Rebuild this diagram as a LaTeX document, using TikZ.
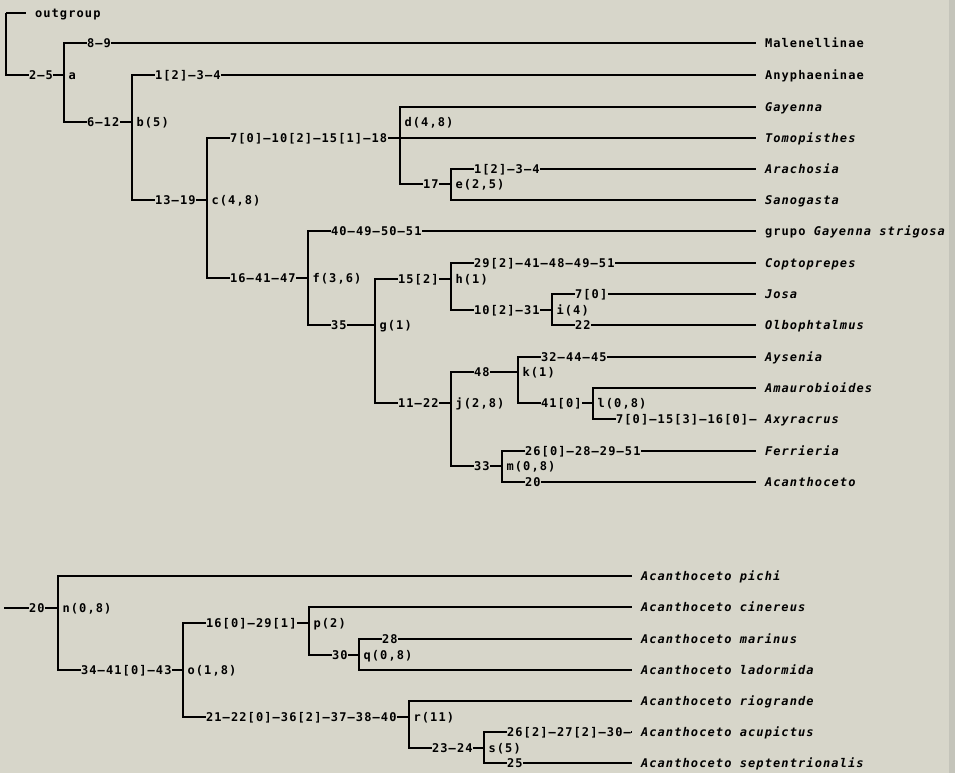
\documentclass[tikz,border=0pt]{standalone}
\usepackage{fontspec}
\newfontfamily\plotfont[LetterSpace=9.2]{DejaVu Sans Mono}
\usetikzlibrary{positioning}
\definecolor{paper}{RGB}{215,214,202}
\definecolor{scanedge}{RGB}{196,196,186}

\begin{document}
\begin{tikzpicture}[x=1pt, y=-1pt, line width=1.1pt,
    every node/.style={font=\plotfont\bfseries\fontsize{12}{14}\selectfont, text height=8.7pt, text depth=0pt},
    taxon/.style={anchor=west, inner sep=0pt, outer xsep=9pt, font=\plotfont\bfseries\itshape\fontsize{12}{14}\selectfont},
    taxonup/.style={anchor=west, inner sep=0pt, outer xsep=9pt},
    chars/.style={anchor=west, fill=paper, inner xsep=0.5pt, inner ysep=1.5pt},
    cladelab/.style={right=4pt of #1, inner sep=0pt}]

    % paper
    \fill[paper] (0,0) rectangle (955,773);
    \fill[scanedge] (949,0) rectangle (955,773);
    \useasboundingbox (0,0) rectangle (955,773);

    % ==================== upper tree ====================
    % terminals
    \node[taxonup] (og)  at (26,13)  {outgroup};
    \node[taxonup] (mal) at (756,43)  {Malenellinae};
    \node[taxonup] (any) at (756,75)  {Anyphaeninae};
    \node[taxon]   (gay) at (756,107) {Gayenna};
    \node[taxon]   (tom) at (756,138) {Tomopisthes};
    \node[taxon]   (ara) at (756,169) {Arachosia};
    \node[taxon]   (san) at (756,200) {Sanogasta};
    \node[taxonup] (gst) at (756,231) {grupo \textit{Gayenna strigosa}};
    \node[taxon]   (cop) at (756,263) {Coptoprepes};
    \node[taxon]   (jos) at (756,294) {Josa};
    \node[taxon]   (olb) at (756,325) {Olbophtalmus};
    \node[taxon]   (ays) at (756,357) {Aysenia};
    \node[taxon]   (ama) at (756,388) {Amaurobioides};
    \node[taxon]   (axy) at (756,419) {Axyracrus};
    \node[taxon]   (fer) at (756,451) {Ferrieria};
    \node[taxon]   (aca) at (756,482) {Acanthoceto};

    % internal nodes
    \coordinate (root) at (6,13);
    \coordinate (a) at (64,75);
    \coordinate (b) at (132,122);
    \coordinate (c) at (207,200);
    \coordinate (d) at (400,138);
    \coordinate (e) at (451,184);
    \coordinate (f) at (308,278);
    \coordinate (g) at (375,325);
    \coordinate (h) at (451,279);
    \coordinate (i) at (552,310);
    \coordinate (j) at (451,403);
    \coordinate (k) at (518,372);
    \coordinate (l) at (593,403);
    \coordinate (m) at (502,466);

    % branches
    \draw (root) -- (og);
    \draw (root) |- (a);
    \draw (a) |- (mal);  \draw (a) |- (b);
    \draw (b) |- (any);  \draw (b) |- (c);
    \draw (c) |- (d);    \draw (c) |- (f);
    \draw (d) |- (gay);  \draw (d) -- (tom);  \draw (d) |- (e);
    \draw (e) |- (ara);  \draw (e) |- (san);
    \draw (f) |- (gst);  \draw (f) |- (g);
    \draw (g) |- (h);    \draw (g) |- (j);
    \draw (h) |- (cop);  \draw (h) |- (i);
    \draw (i) |- (jos);  \draw (i) |- (olb);
    \draw (j) |- (k);    \draw (j) |- (m);
    \draw (k) |- (ays);  \draw (k) |- (l);
    \draw (l) |- (ama);  \draw (l) |- (axy);
    \draw (m) |- (fer);  \draw (m) |- (aca);

    % character changes on branches
    \node[chars] at (28,75)   {2–5};
    \node[chars] at (86,43)   {8–9};
    \node[chars] at (86,122)  {6–12};
    \node[chars] at (154,75)  {1[2]–3–4};
    \node[chars] at (154,200) {13–19};
    \node[chars] at (229,138) {7[0]–10[2]–15[1]–18};
    \node[chars] at (229,278) {16–41–47};
    \node[chars] at (422,184) {17};
    \node[chars] at (473,169) {1[2]–3–4};
    \node[chars] at (330,231) {40–49–50–51};
    \node[chars] at (330,325) {35};
    \node[chars] at (397,279) {15[2]};
    \node[chars] at (397,403) {11–22};
    \node[chars] at (473,263) {29[2]–41–48–49–51};
    \node[chars] at (473,310) {10[2]–31};
    \node[chars] at (574,294) {7[0]};
    \node[chars] at (574,325) {22};
    \node[chars] at (473,372) {48};
    \node[chars] at (473,466) {33};
    \node[chars] at (540,357) {32–44–45};
    \node[chars] at (540,403) {41[0]};
    \node[chars] at (615,419) {7[0]–15[3]–16[0]–};
    \node[chars] at (524,451) {26[0]–28–29–51};
    \node[chars] at (524,482) {20};

    % node labels
    \node[cladelab=a] (alab) {a};
    \node[cladelab=b] (blab) {b(5)};
    \node[cladelab=c] (clab) {c(4,8)};
    \node[anchor=west, inner sep=0pt] (dlab) at (404,122) {d(4,8)};
    \node[cladelab=e] (elab) {e(2,5)};
    \node[cladelab=f] (flab) {f(3,6)};
    \node[cladelab=g] (glab) {g(1)};
    \node[cladelab=h] (hlab) {h(1)};
    \node[cladelab=i] (ilab) {i(4)};
    \node[cladelab=j] (jlab) {j(2,8)};
    \node[cladelab=k] (klab) {k(1)};
    \node[cladelab=l] (llab) {l(0,8)};
    \node[cladelab=m] (mlab) {m(0,8)};

    % ==================== lower tree: Acanthoceto ====================
    \node[taxon] (pic) at (632,576) {Acanthoceto pichi};
    \node[taxon] (cin) at (632,607) {Acanthoceto cinereus};
    \node[taxon] (mar) at (632,639) {Acanthoceto marinus};
    \node[taxon] (lad) at (632,670) {Acanthoceto ladormida};
    \node[taxon] (rio) at (632,701) {Acanthoceto riogrande};
    \node[taxon] (acu) at (632,732) {Acanthoceto acupictus};
    \node[taxon] (sep) at (632,763) {Acanthoceto septentrionalis};

    \coordinate (nstem) at (4,608);
    \coordinate (n) at (58,608);
    \coordinate (o) at (183,670);
    \coordinate (p) at (309,623);
    \coordinate (q) at (359,655);
    \coordinate (r) at (409,717);
    \coordinate (s) at (484,748);

    \draw (nstem) -- (n);
    \draw (n) |- (pic);  \draw (n) |- (o);
    \draw (o) |- (p);    \draw (o) |- (r);
    \draw (p) |- (cin);  \draw (p) |- (q);
    \draw (q) |- (mar);  \draw (q) |- (lad);
    \draw (r) |- (rio);  \draw (r) |- (s);
    \draw (s) |- (acu);  \draw (s) |- (sep);

    \node[chars] at (28,608)  {20};
    \node[chars] at (80,670)  {34–41[0]–43};
    \node[chars] at (205,623) {16[0]–29[1]};
    \node[chars] at (331,655) {30};
    \node[chars] at (381,639) {28};
    \node[chars] at (205,717) {21–22[0]–36[2]–37–38–40};
    \node[chars] at (431,748) {23–24};
    \node[chars] at (506,732) {26[2]–27[2]–30–};
    \node[chars] at (506,763) {25};

    \node[cladelab=n] (nlab) {n(0,8)};
    \node[cladelab=o] (olab) {o(1,8)};
    \node[cladelab=p] (plab) {p(2)};
    \node[cladelab=q] (qlab) {q(0,8)};
    \node[cladelab=r] (rlab) {r(11)};
    \node[cladelab=s] (slab) {s(5)};
\end{tikzpicture}
\end{document}
